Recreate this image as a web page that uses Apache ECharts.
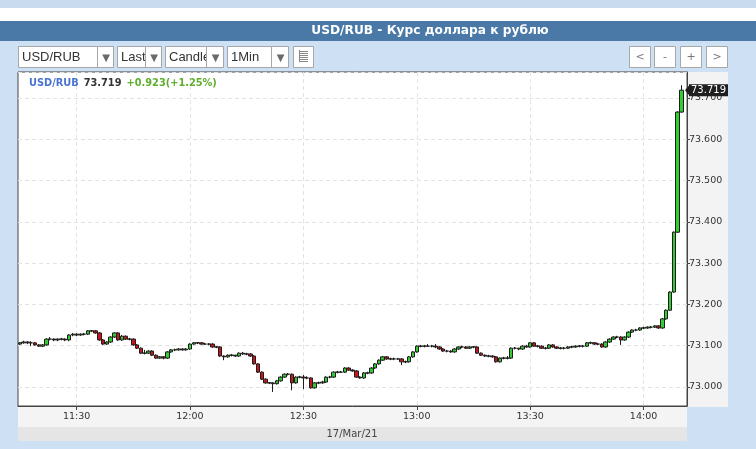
<!DOCTYPE html>
<html>
<head>
<meta charset="utf-8">
<script src="https://cdn.jsdelivr.net/npm/echarts@6/dist/echarts.min.js"></script>
<style>html,body{margin:0;padding:0;background:#cde0f4;}#c{width:756px;height:449px;}</style>
</head>
<body>
<div id="c"></div>
<script>
const times = [
'11:15','11:16','11:17','11:18','11:19','11:20','11:21','11:22','11:23','11:24','11:25','11:26','11:27','11:28','11:29',
'11:30','11:31','11:32','11:33','11:34','11:35','11:36','11:37','11:38','11:39','11:40','11:41','11:42','11:43','11:44',
'11:45','11:46','11:47','11:48','11:49','11:50','11:51','11:52','11:53','11:54','11:55','11:56','11:57','11:58','11:59',
'12:00','12:01','12:02','12:03','12:04','12:05','12:06','12:07','12:08','12:09','12:10','12:11','12:12','12:13','12:14',
'12:15','12:16','12:17','12:18','12:19','12:20','12:21','12:22','12:23','12:24','12:25','12:26','12:27','12:28','12:29',
'12:30','12:31','12:32','12:33','12:34','12:35','12:36','12:37','12:38','12:39','12:40','12:41','12:42','12:43','12:44',
'12:45','12:46','12:47','12:48','12:49','12:50','12:51','12:52','12:53','12:54','12:55','12:56','12:57','12:58','12:59',
'13:00','13:01','13:02','13:03','13:04','13:05','13:06','13:07','13:08','13:09','13:10','13:11','13:12','13:13','13:14',
'13:15','13:16','13:17','13:18','13:19','13:20','13:21','13:22','13:23','13:24','13:25','13:26','13:27','13:28','13:29',
'13:30','13:31','13:32','13:33','13:34','13:35','13:36','13:37','13:38','13:39','13:40','13:41','13:42','13:43','13:44',
'13:45','13:46','13:47','13:48','13:49','13:50','13:51','13:52','13:53','13:54','13:55','13:56','13:57','13:58','13:59',
'14:00','14:01','14:02','14:03','14:04','14:05','14:06','14:07','14:08','14:09','14:10','14:11'
];
const majorTimes = ['11:30','12:00','12:30','13:00','13:30','14:00'];

const opens = [
73.104,73.107,73.109,73.107,73.107,73.102,73.099,73.102,73.116,73.116,
73.114,73.116,73.116,73.114,73.126,73.128,73.126,73.128,73.128,73.136,
73.136,73.131,73.114,73.104,73.109,73.121,73.131,73.114,73.123,73.116,
73.116,73.102,73.094,73.082,73.082,73.087,73.077,73.070,73.073,73.070,
73.085,73.090,73.090,73.092,73.090,73.092,73.104,73.107,73.107,73.104,
73.104,73.104,73.097,73.097,73.075,73.073,73.077,73.077,73.075,73.082,
73.080,73.080,73.075,73.056,73.036,73.019,73.010,73.010,73.008,73.015,
73.024,73.031,73.031,73.010,73.024,73.024,73.022,73.022,72.998,73.010,
73.010,73.012,73.024,73.024,73.036,73.036,73.036,73.046,73.041,73.039,
73.024,73.022,73.034,73.034,73.046,73.056,73.065,73.073,73.068,73.068,
73.068,73.068,73.061,73.061,73.073,73.085,73.099,73.099,73.099,73.099,
73.099,73.097,73.092,73.087,73.087,73.085,73.092,73.097,73.097,73.094,
73.097,73.097,73.082,73.077,73.075,73.075,73.073,73.061,73.070,73.070,
73.070,73.094,73.094,73.092,73.099,73.097,73.107,73.099,73.099,73.094,
73.094,73.102,73.097,73.094,73.094,73.094,73.097,73.097,73.099,73.099,
73.099,73.107,73.107,73.104,73.104,73.097,73.109,73.116,73.121,73.121,
73.114,73.121,73.133,73.138,73.138,73.143,73.143,73.145,73.145,73.148,
73.143,73.165,73.186,73.230,73.375,73.666
];
const closes = [
73.107,73.109,73.107,73.107,73.102,73.099,73.102,73.116,73.116,73.114,
73.116,73.116,73.114,73.126,73.128,73.126,73.128,73.128,73.136,73.136,
73.131,73.114,73.104,73.109,73.121,73.131,73.114,73.123,73.116,73.116,
73.102,73.094,73.082,73.082,73.087,73.077,73.070,73.073,73.070,73.085,
73.090,73.090,73.092,73.090,73.092,73.104,73.107,73.107,73.104,73.104,
73.104,73.097,73.097,73.075,73.073,73.077,73.077,73.075,73.082,73.080,
73.080,73.075,73.056,73.036,73.019,73.010,73.010,73.008,73.015,73.024,
73.031,73.031,73.010,73.024,73.024,73.022,73.022,72.998,73.010,73.010,
73.012,73.024,73.024,73.036,73.036,73.036,73.046,73.041,73.039,73.024,
73.022,73.034,73.034,73.046,73.056,73.065,73.073,73.068,73.068,73.068,
73.068,73.061,73.061,73.073,73.085,73.099,73.099,73.099,73.099,73.099,
73.097,73.092,73.087,73.087,73.085,73.092,73.097,73.097,73.094,73.097,
73.097,73.082,73.077,73.075,73.075,73.073,73.061,73.070,73.070,73.070,
73.094,73.094,73.092,73.099,73.097,73.107,73.099,73.099,73.094,73.094,
73.102,73.097,73.094,73.094,73.094,73.097,73.097,73.099,73.099,73.099,
73.107,73.107,73.104,73.104,73.097,73.109,73.116,73.121,73.121,73.114,
73.121,73.133,73.138,73.138,73.143,73.143,73.145,73.145,73.148,73.143,
73.165,73.186,73.230,73.375,73.666,73.719
];
const lows = [
73.102,73.105,73.104,73.099,73.100,73.097,73.097,73.100,73.113,73.111,
73.111,73.113,73.111,73.111,73.123,73.123,73.124,73.125,73.126,73.133,
73.129,73.112,73.102,73.102,73.107,73.119,73.112,73.112,73.114,73.113,
73.100,73.092,73.080,73.079,73.080,73.075,73.068,73.068,73.067,73.068,
73.083,73.087,73.088,73.088,73.088,73.090,73.102,73.104,73.102,73.102,
73.101,73.095,73.094,73.073,73.065,73.071,73.074,73.073,73.073,73.078,
73.077,73.073,73.054,73.034,73.017,73.008,73.007,72.988,73.006,73.013,
73.022,73.028,72.992,73.008,73.021,72.995,73.019,72.996,72.996,73.007,
73.008,73.010,73.021,73.022,73.033,73.034,73.034,73.039,73.037,73.022,
73.020,73.020,73.031,73.032,73.044,73.054,73.063,73.066,73.065,73.065,
73.066,73.053,73.058,73.059,73.071,73.083,73.096,73.096,73.097,73.096,
73.094,73.090,73.085,73.084,73.083,73.083,73.090,73.094,73.092,73.092,
73.094,73.080,73.075,73.073,73.072,73.071,73.059,73.059,73.067,73.067,
73.068,73.091,73.089,73.090,73.095,73.095,73.097,73.096,73.092,73.091,
73.092,73.095,73.092,73.091,73.091,73.092,73.094,73.095,73.096,73.096,
73.097,73.104,73.102,73.101,73.095,73.095,73.107,73.114,73.118,73.102,
73.112,73.119,73.131,73.135,73.136,73.140,73.141,73.142,73.143,73.141,
73.141,73.163,73.184,73.228,73.373,73.664
];
const highs = [
73.109,73.112,73.111,73.111,73.109,73.104,73.104,73.118,73.121,73.118,
73.118,73.119,73.118,73.128,73.131,73.130,73.130,73.131,73.138,73.138,
73.138,73.133,73.116,73.111,73.123,73.133,73.133,73.126,73.125,73.119,
73.118,73.104,73.096,73.090,73.089,73.089,73.079,73.075,73.075,73.087,
73.092,73.093,73.094,73.094,73.094,73.106,73.109,73.109,73.109,73.107,
73.106,73.106,73.099,73.099,73.077,73.079,73.080,73.078,73.084,73.085,
73.083,73.082,73.077,73.058,73.038,73.021,73.012,73.012,73.017,73.026,
73.033,73.034,73.033,73.026,73.027,73.029,73.026,73.024,73.012,73.013,
73.015,73.026,73.027,73.038,73.039,73.039,73.048,73.048,73.043,73.041,
73.026,73.036,73.037,73.048,73.058,73.067,73.075,73.075,73.071,73.071,
73.070,73.070,73.064,73.075,73.087,73.101,73.102,73.102,73.104,73.102,
73.104,73.099,73.094,73.090,73.089,73.094,73.099,73.100,73.099,73.099,
73.099,73.099,73.084,73.079,73.078,73.077,73.075,73.072,73.073,73.075,
73.096,73.097,73.095,73.101,73.102,73.109,73.109,73.102,73.101,73.097,
73.104,73.104,73.099,73.097,73.097,73.099,73.100,73.101,73.102,73.102,
73.109,73.110,73.109,73.107,73.106,73.111,73.118,73.123,73.124,73.123,
73.123,73.135,73.140,73.141,73.145,73.146,73.147,73.148,73.150,73.150,
73.167,73.188,73.232,73.377,73.668,73.731
];

const symbolName = 'USD/RUB';
const lastPrice = 73.719;
const changeText = '+0.923(+1.25%)';
const headerText = 'USD/RUB - Курс доллара к рублю';
const dateText = '17/Mar/21';
const toolbarLabels = ['USD/RUB', 'Last', 'Candle', '1Min'];
const navLabels = ['<', '-', '+', '>'];

const candleData = opens.map((o, i) => [o, closes[i], lows[i], highs[i]]);
const isMajor = (idx, val) => majorTimes.indexOf(val) >= 0;

const chart = echarts.init(document.getElementById('c'), null, {renderer: 'canvas'});

const FONT = 'DejaVu Sans';
const g = [];
// top decorative strip
g.push({type:'rect', z:-10, shape:{x:0,y:0,width:756,height:8}, style:{fill:'#c8dbef'}});
g.push({type:'rect', z:-10, shape:{x:0,y:8,width:756,height:13}, style:{fill:'#ffffff'}});
// header bar
g.push({type:'rect', z:-10, shape:{x:0,y:21,width:756,height:20}, style:{fill:'#4a79a8'}});
g.push({type:'text', z:50, x:430, y:31, style:{text:headerText, fill:'#ffffff', font:'bold 12.2px "DejaVu Sans"', textAlign:'center', textVerticalAlign:'middle'}});
// toolbar selects: [left, right, separator, text x]
const boxes = [[18,113,97,22],[117,161,145,121],[165,223,206,169],[227,288,271,231]];
boxes.forEach((b, k) => {
  g.push({type:'rect', z:5, shape:{x:b[0]+0.5,y:46.5,width:b[1]-b[0],height:21}, style:{fill:'#ffffff', stroke:'#a7a7a7', lineWidth:1}});
  g.push({type:'text', z:6, x:b[3], y:57, style:{text:toolbarLabels[k], fill:'#333', font:'13px "Liberation Sans"', textVerticalAlign:'middle'}});
  g.push({type:'rect', z:7, shape:{x:b[2]+0.5,y:46.5,width:b[1]-b[2],height:21}, style:{fill:'#ffffff', stroke:'#a7a7a7', lineWidth:1}});
  g.push({type:'text', z:8, x:(b[2]+b[1])/2+1, y:58, style:{text:'▼', fill:'#6a6a6a', font:'10px "DejaVu Sans"', textAlign:'center', textVerticalAlign:'middle'}});
});
// list icon button
g.push({type:'rect', z:5, shape:{x:293.5,y:46.5,width:20,height:21}, style:{fill:'#ffffff', stroke:'#a7a7a7', lineWidth:1}});
[51,53,55,57,59,61].forEach(yy => {
  g.push({type:'line', z:6, shape:{x1:299,y1:yy+0.5,x2:308,y2:yy+0.5}, style:{stroke:'#888', lineWidth:1}});
});
g.push({type:'line', z:6, shape:{x1:299.5,y1:50,x2:299.5,y2:62}, style:{stroke:'#888', lineWidth:1}});
// nav buttons
const navX = [629, 654, 680, 706];
navX.forEach((x, k) => {
  g.push({type:'rect', z:5, shape:{x:x+0.5,y:46.5,width:21,height:21}, style:{fill:'#ffffff', stroke:'#a7a7a7', lineWidth:1}});
  g.push({type:'text', z:6, x:x+11, y:57, style:{text:navLabels[k], fill:'#777', font:'11px "DejaVu Sans"', textAlign:'center', textVerticalAlign:'middle'}});
});
// right axis panel
g.push({type:'rect', z:-10, shape:{x:687,y:72,width:41,height:335}, style:{fill:'#f3f3f3'}});
// bottom axis panel and date bar
g.push({type:'rect', z:-10, shape:{x:18,y:406,width:669,height:21}, style:{fill:'#f4f4f4'}});
g.push({type:'rect', z:-10, shape:{x:18,y:427,width:669,height:14}, style:{fill:'#e5e5e5'}});
g.push({type:'text', z:50, x:352, y:434, style:{text:dateText, fill:'#444', font:'10px "DejaVu Sans"', textAlign:'center', textVerticalAlign:'middle'}});

const option = {
  animation: false,
  backgroundColor: '#cde0f4',
  title: [{
    left: 24, top: 69,
    text: '{a|' + symbolName + '} {b|' + lastPrice.toFixed(3) + '} {c|' + changeText + '}',
    textStyle: {
      rich: {
        a: {color:'#4a74d4', fontWeight:'bold', fontSize:9.8, fontFamily:FONT},
        b: {color:'#333333', fontWeight:'bold', fontSize:9.8, fontFamily:FONT},
        c: {color:'#5fae2e', fontWeight:'bold', fontSize:9.8, fontFamily:FONT}
      }
    }
  }],
  grid: {left:18, top:72, right:69, bottom:43, show:true, backgroundColor:'#ffffff', borderColor:'#444', borderWidth:1},
  xAxis: {
    type:'category', data:times, boundaryGap:true,
    axisLine:{lineStyle:{color:'#444'}},
    axisTick:{show:true, alignWithLabel:true, interval:isMajor, length:4, lineStyle:{color:'#444'}},
    axisLabel:{interval:isMajor, color:'#333', fontFamily:FONT, fontSize:9.5, margin:6},
    splitLine:{show:true, interval:isMajor, alignWithLabel:true, lineStyle:{color:'#e3e3e3', type:[4,3]}}
  },
  yAxis: {
    type:'value', position:'right', min:72.954, max:73.763, splitNumber:8, scale:true,
    axisLine:{show:true, lineStyle:{color:'#444'}},
    axisTick:{show:true, length:3, lineStyle:{color:'#444'}},
    axisLabel:{showMinLabel:false, showMaxLabel:false, formatter:v => v.toFixed(3), color:'#333', fontFamily:FONT, fontSize:9.5, margin:2},
    splitLine:{show:true, lineStyle:{color:'#e3e3e3', type:[4,3]}}
  },
  series: [{
    type:'candlestick', data:candleData, barWidth:4,
    itemStyle:{color:'#33cc33', color0:'#c8141c', borderColor:'#1e1e1e', borderColor0:'#1e1e1e', borderWidth:1}
  }],
  graphic: {elements: g}
};
chart.setOption(option);
const py = chart.convertToPixel({yAxisIndex:0}, lastPrice);
g.push({type:'polygon', z:60, shape:{points:[[685,py],[690,py-6],[690,py+6]]}, style:{fill:'#1f1f1f'}});
g.push({type:'rect', z:60, shape:{x:689,y:py-6,width:39,height:12}, style:{fill:'#1f1f1f'}});
g.push({type:'text', z:61, x:708.5, y:py+0.5, style:{text:lastPrice.toFixed(3), fill:'#ffffff', font:'10px "DejaVu Sans"', textAlign:'center', textVerticalAlign:'middle'}});
chart.setOption({graphic:{elements:g}});
</script>
</body>
</html>
